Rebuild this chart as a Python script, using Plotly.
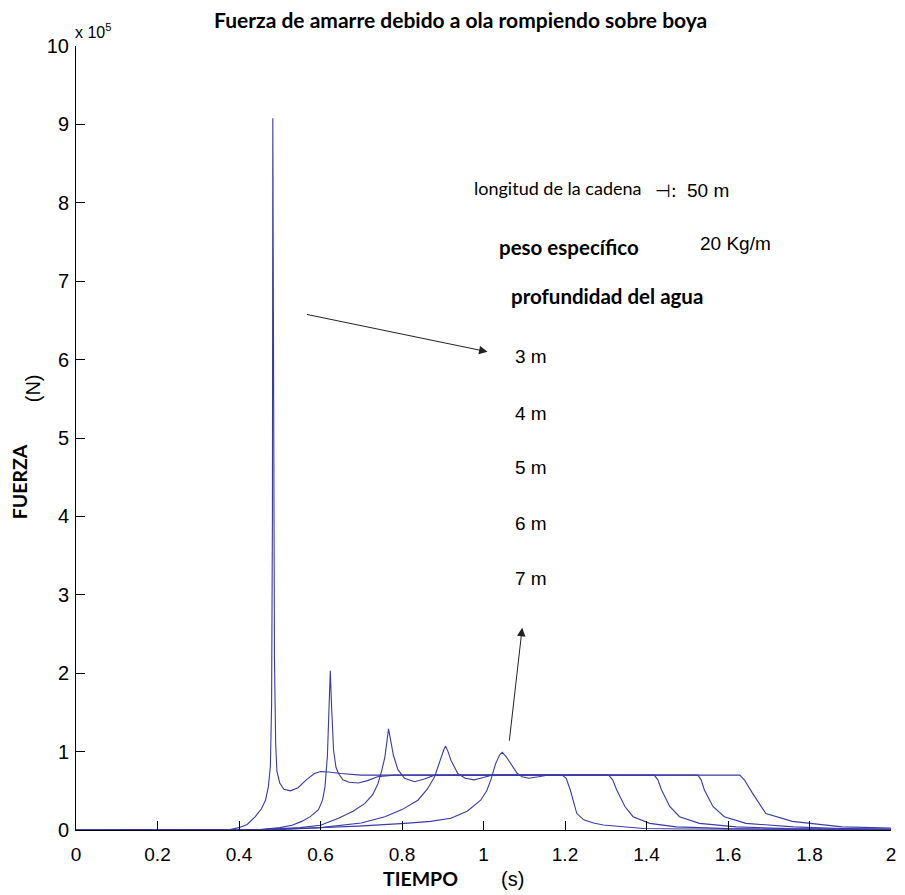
import plotly.graph_objects as go

# ---------------- data (force in units of 1e5 N, time in s) ----------------
t_d3 = [0.0, 0.30, 0.38, 0.40, 0.42, 0.44, 0.455, 0.465, 0.472, 0.477, 0.480, 0.482, 0.483,
        0.485, 0.487, 0.490, 0.493, 0.500, 0.510, 0.526, 0.545, 0.565, 0.585, 0.600, 0.620,
        0.650, 0.700, 1.193, 1.203, 1.213, 1.229, 1.246, 1.270, 1.294, 1.340, 1.392, 1.500,
        1.700, 2.0]
f_d3 = [0.0, 0.0, 0.01, 0.03, 0.07, 0.17, 0.27, 0.38, 0.55, 0.81, 1.6, 4.0, 9.08,
        5.85, 2.2, 1.1, 0.75, 0.60, 0.52, 0.50, 0.54, 0.64, 0.72, 0.745, 0.74,
        0.72, 0.70, 0.70, 0.66, 0.51, 0.21, 0.13, 0.09, 0.064, 0.04, 0.02, 0.012,
        0.006, 0.004]

t_d4 = [0.0, 0.40, 0.46, 0.50, 0.53, 0.554, 0.575, 0.595, 0.605, 0.611, 0.617, 0.621, 0.624,
        0.627, 0.632, 0.638, 0.644, 0.655, 0.670, 0.693, 0.715, 0.740, 0.780, 1.307, 1.317,
        1.327, 1.347, 1.367, 1.408, 1.473, 1.600, 1.800, 2.0]
f_d4 = [0.0, 0.0, 0.01, 0.03, 0.06, 0.11, 0.17, 0.26, 0.38, 0.55, 0.95, 1.5, 2.03,
        1.6, 1.02, 0.80, 0.72, 0.64, 0.61, 0.60, 0.63, 0.68, 0.70, 0.70, 0.64,
        0.51, 0.30, 0.17, 0.085, 0.04, 0.018, 0.008, 0.005]

t_d5 = [0.0, 0.45, 0.55, 0.60, 0.644, 0.680, 0.709, 0.728, 0.741, 0.750, 0.758, 0.763, 0.767,
        0.772, 0.779, 0.790, 0.806, 0.831, 0.855, 0.880, 1.419, 1.428, 1.437, 1.457, 1.481,
        1.530, 1.620, 1.750, 2.0]
f_d5 = [0.0, 0.005, 0.03, 0.06, 0.15, 0.24, 0.34, 0.45, 0.59, 0.75, 0.93, 1.15, 1.29,
        1.15, 0.95, 0.77, 0.66, 0.615, 0.65, 0.70, 0.70, 0.64, 0.51, 0.30, 0.17,
        0.085, 0.04, 0.018, 0.008]

t_d6 = [0.0, 0.50, 0.60, 0.70, 0.758, 0.800, 0.839, 0.862, 0.880, 0.896, 0.903, 0.907,
        0.913, 0.920, 0.937, 0.955, 0.977, 1.000, 1.020, 1.526, 1.534, 1.542, 1.563, 1.591,
        1.644, 1.760, 1.880, 2.0]
f_d6 = [0.0, 0.005, 0.03, 0.09, 0.17, 0.26, 0.38, 0.52, 0.68, 0.93, 1.03, 1.07,
        1.0, 0.89, 0.72, 0.66, 0.64, 0.67, 0.70, 0.70, 0.64, 0.51, 0.30, 0.17,
        0.085, 0.04, 0.02, 0.012]

t_d7 = [0.0, 0.45, 0.55, 0.693, 0.807, 0.870, 0.920, 0.960, 0.993, 1.008, 1.018, 1.030,
        1.040, 1.046, 1.055, 1.067, 1.083, 1.095, 1.111, 1.135, 1.156, 1.629, 1.640,
        1.660, 1.693, 1.758, 1.880, 2.0]
f_d7 = [0.0, 0.005, 0.02, 0.05, 0.085, 0.11, 0.15, 0.24, 0.38, 0.50, 0.64, 0.85,
        0.96, 0.99, 0.94, 0.85, 0.72, 0.68, 0.66, 0.68, 0.70, 0.70, 0.64,
        0.47, 0.21, 0.11, 0.04, 0.025]

series_t = [t_d3, t_d4, t_d5, t_d6, t_d7]
series_f = [f_d3, f_d4, f_d5, f_d6, f_d7]
series_names = ["3 m", "4 m", "5 m", "6 m", "7 m"]

x_ticks = [0, 0.2, 0.4, 0.6, 0.8, 1.0, 1.2, 1.4, 1.6, 1.8, 2.0]
x_ticktext = ["0", "0.2", "0.4", "0.6", "0.8", "1", "1.2", "1.4", "1.6", "1.8", "2"]
y_ticks_e5 = [0, 1, 2, 3, 4, 5, 6, 7, 8, 9, 10]
y_ticktext = ["0", "1", "2", "3", "4", "5", "6", "7", "8", "9", "10"]
SCALE = 1e5

# ---------------- layout helpers (pixel geometry) ----------------
# the page body has an 8px margin, so the figure is drawn 8px in from the corner
OFF = 8
W, H = 905 - OFF, 895 - OFF
L, R, T, B = 76, 896, 46, 830   # plot area in window pixels


def pxx(x):
    return (x - L) / (R - L)


def pxy(y):
    return (B - y) / (B - T)


ARIAL = "Liberation Sans, Arial, sans-serif"
CAL = "Lato, Carlito, Calibri, sans-serif"

fig = go.Figure()
for t, f, n in zip(series_t, series_f, series_names):
    fig.add_trace(go.Scatter(
        x=t, y=[v * SCALE for v in f], mode="lines", name=n,
        line=dict(color="#3a3aa8", width=1.1), showlegend=False,
        hoverinfo="skip"))

ann = []


def text(s, x, y, size, family, bold=False, xanchor="left", angle=0):
    ann.append(dict(
        text=("<b>%s</b>" % s) if bold else s, xref="paper", yref="paper",
        x=pxx(x), y=pxy(y), xanchor=xanchor, yanchor="middle", showarrow=False,
        textangle=angle, font=dict(family=family, size=size, color="black")))


text("Fuerza de amarre debido a ola rompiendo sobre boya", 463, 19, 21, CAL, True, "center")
text("x 10<sup>5</sup>", 73, 31, 16, ARIAL)
text("longitud de la cadena", 474, 188, 18, CAL)
text("⊣:", 657, 190, 18, "DejaVu Sans")
text("50 m", 689, 190, 19, ARIAL)
text("peso específico", 500, 247, 20.5, CAL, True)
text("20 Kg/m", 702, 243, 19, ARIAL)
text("profundidad del agua", 512, 296, 20.5, CAL, True)
for lab, yy in zip(series_names, [357, 413, 468, 523, 578]):
    text(lab, 516, yy, 19, ARIAL)
text("TIEMPO", 423, 878, 19.5, CAL, True, "center")
text("(s)", 515, 879, 20, ARIAL, False, "center")
text("FUERZA", 19, 482, 19.5, CAL, True, "center", -90)
text("(N)", 33, 388, 20, ARIAL, False, "center", -90)

# arrows (head, tail) in data coordinates
ann.append(dict(x=1.010, y=6.10 * SCALE, ax=0.563, ay=6.58 * SCALE, xref="x", yref="y",
                axref="x", ayref="y", showarrow=True, arrowhead=2, arrowsize=1.7,
                arrowwidth=1, arrowcolor="#222222", text=""))
ann.append(dict(x=1.095, y=2.58 * SCALE, ax=1.063, ay=1.12 * SCALE, xref="x", yref="y",
                axref="x", ayref="y", showarrow=True, arrowhead=2, arrowsize=1.7,
                arrowwidth=1, arrowcolor="#222222", text=""))

fig.update_layout(
    width=W, height=H,
    margin=dict(l=L - OFF, r=905 - R, t=T - OFF, b=(895 - OFF) - (B - OFF), pad=0),
    paper_bgcolor="white", plot_bgcolor="white",
    annotations=ann,
    xaxis=dict(range=[0, 2], tickvals=x_ticks, ticktext=x_ticktext, ticks="inside",
               ticklen=9, tickcolor="black", showline=True, linecolor="black",
               linewidth=1, showgrid=False, zeroline=False, mirror=False,
               tickfont=dict(family=ARIAL, size=19, color="black"),
               ticklabelstandoff=7),
    yaxis=dict(range=[0, 10 * SCALE], tickvals=[v * SCALE for v in y_ticks_e5],
               ticktext=y_ticktext, ticks="inside", ticklen=9, tickcolor="black",
               showline=True, linecolor="black", linewidth=1, showgrid=False,
               zeroline=False, mirror=False,
               tickfont=dict(family=ARIAL, size=20, color="black"),
               ticklabelstandoff=2),
)

fig.write_html("out.html")
